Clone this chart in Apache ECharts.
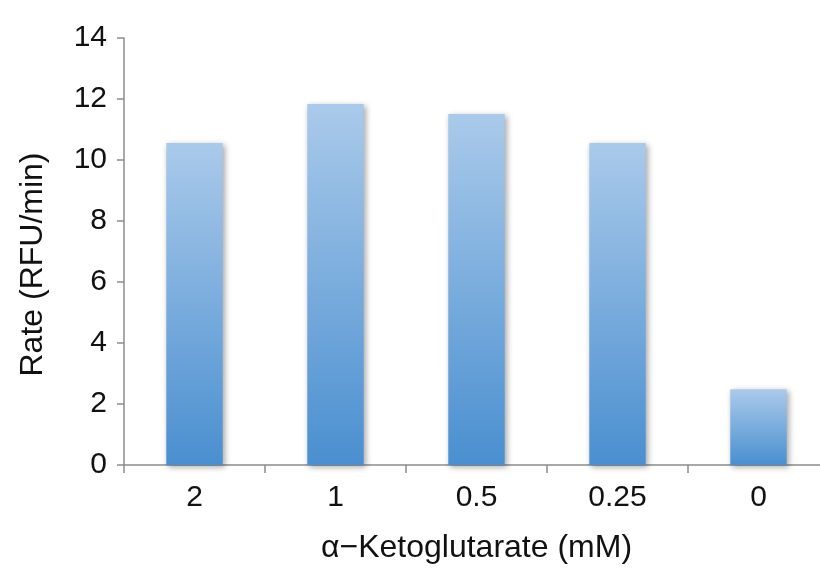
<!DOCTYPE html>
<html><head><meta charset="utf-8">
<script src="https://cdn.jsdelivr.net/npm/echarts@6/dist/echarts.min.js"></script>
<style>html,body{margin:0;padding:0;background:#fff}#c{width:820px;height:571px}</style>
</head><body><div id="c"></div>
<script>
const categories = ['2', '1', '0.5', '0.25', '0'];
const rates = [10.56, 11.84, 11.51, 10.56, 2.48];
const yTicks = [0, 2, 4, 6, 8, 10, 12, 14];

const chart = echarts.init(document.getElementById('c'), null, {renderer: 'canvas'});
const font = 'Liberation Sans, Arial, sans-serif';
chart.setOption({
  animation: false,
  grid: {left: 124, right: -9, top: 38, bottom: 106, containLabel: false, outerBoundsMode: 'none'},
  xAxis: {
    type: 'category', data: categories,
    axisLine: {lineStyle: {color: '#8c8c8c', width: 1.5}},
    axisTick: {show: true, length: 8, alignWithLabel: false, lineStyle: {color: '#8c8c8c', width: 1.5}},
    axisLabel: {color: '#111', fontSize: 30, fontFamily: font, margin: 18},
    name: 'α−Ketoglutarate (mM)', nameLocation: 'middle', nameGap: 67,
    nameTextStyle: {color: '#111', fontSize: 32, fontFamily: font}
  },
  yAxis: {
    type: 'value', min: 0, max: 14, interval: 2,
    axisLine: {show: true, lineStyle: {color: '#8c8c8c', width: 1.5}},
    axisTick: {show: true, inside: false, length: 7, lineStyle: {color: '#8c8c8c', width: 1.5}},
    splitLine: {show: false},
    axisLabel: {color: '#111', fontSize: 30, fontFamily: font, margin: 17, padding: [0, 0, 8, 0],
      formatter: v => yTicks.includes(v) ? String(v) : ''},
    name: 'Rate (RFU/min)', nameLocation: 'middle', nameGap: 75, nameRotate: 90,
    nameTextStyle: {color: '#111', fontSize: 32, fontFamily: font, padding: [0, 26, 0, 0]}
  },
  series: [{
    type: 'bar', data: rates, barWidth: '40%',
    itemStyle: {
      color: new echarts.graphic.LinearGradient(0, 0, 0, 1, [
        {offset: 0, color: '#aacaea'}, {offset: 1, color: '#4a8fd0'}
      ]),
      shadowColor: 'rgba(0,0,0,0.35)', shadowBlur: 6, shadowOffsetX: 2, shadowOffsetY: 2
    }
  }]
});
</script></body></html>
